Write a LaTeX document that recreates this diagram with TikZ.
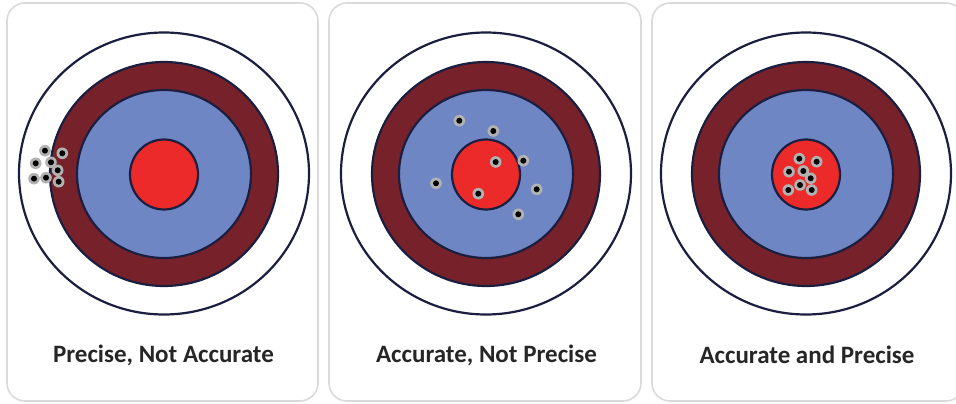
\documentclass[tikz,border=0pt]{standalone}
\usepackage{fontspec}
\setmainfont{Carlito}
\usetikzlibrary{positioning}
\definecolor{cRing}{HTML}{1B1E3F}
\definecolor{cMaroon}{HTML}{77222A}
\definecolor{cBlue}{HTML}{6F86C4}
\definecolor{cRed}{HTML}{EC2A2A}
\definecolor{cFrame}{HTML}{DADADA}
\definecolor{cHole}{HTML}{B2B2B2}
\definecolor{cInk}{HTML}{262626}
\tikzset{
  panel/.style={draw=cFrame, line width=1.6pt, rounded corners=18pt, fill=white},
  ring/.style={draw=cRing, line width=2.2pt},
  caption/.style={font=\fontsize{25}{30}\selectfont\bfseries, text=cInk,
    inner sep=0pt},
}
\begin{document}
\begin{tikzpicture}[x=1pt, y=-1pt]
\useasboundingbox (0,0) rectangle (956,404);
\clip (0,0) rectangle (956,404);
% ---------------------------------------------------------------- panels
\draw[panel] (7,3) rectangle (318,401);
\draw[panel] (329,3) rectangle (641,401);
\draw[panel] (652,3) rectangle (964,401);
% ---------------------------------------------------------------- targets
\foreach \cx in {164,486,806} {
  \draw[ring, fill=white] (\cx,173.5) ellipse [x radius=145pt, y radius=141pt];
  \draw[ring, fill=cMaroon] (\cx,174) ellipse [x radius=114pt, y radius=112pt];
  \draw[ring, fill=cBlue] (\cx,174) ellipse [x radius=87pt, y radius=84pt];
  \draw[ring, fill=cRed] (\cx,174.5) ellipse [x radius=34pt, y radius=35pt];
}
% ---------------------------------------------------------------- holes
\foreach \hx/\hy in {45/150.7, 62.3/153.3, 35.7/163.3, 51/162.3, 57.7/170.3,
    34/178.7, 46/177.7, 58.7/181.7,
    459.3/120.7, 493.3/131, 495.7/162, 523.3/160.7, 436/183.3, 478.3/193.7,
    536.7/189.3, 518.3/214.3,
    799.3/158.7, 816.7/161.7, 789/171.7, 803.3/171, 810.7/178.3, 800/185,
    811.7/190, 788.3/190} {
  \fill[cHole] (\hx,\hy) circle (5.8pt);
  \fill[black] (\hx,\hy) circle (3pt);
}
% ---------------------------------------------------------------- captions
\node[caption] (pna) at (163.5,355) {Precise, Not Accurate};
\node[caption] (anp) at (486.5,355) {Accurate, Not Precise};
\node[caption] (aap) at (807,355) {Accurate and Precise};
\end{tikzpicture}
\end{document}
